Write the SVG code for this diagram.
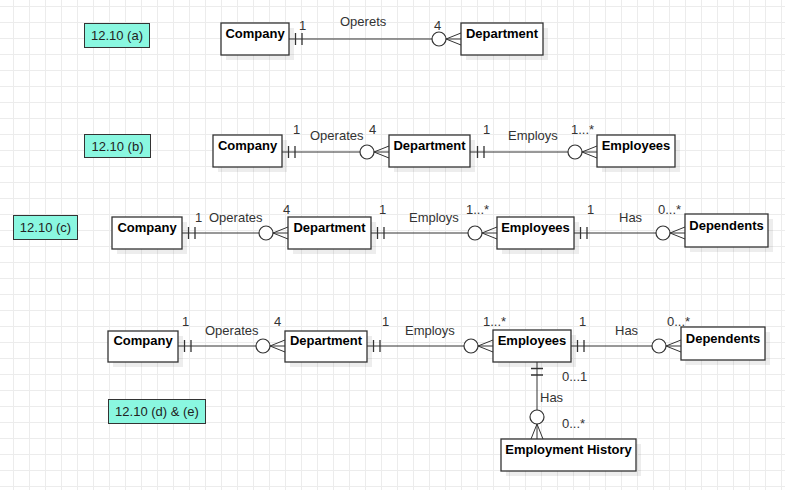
<svg xmlns="http://www.w3.org/2000/svg" width="785" height="490" viewBox="0 0 785 490">
<style>
.ent rect.b{fill:#fff;stroke:#333;stroke-width:1.3}
.ent rect.s{fill:#000;opacity:.07}
.et{font:bold 13px "Liberation Sans",Arial,sans-serif;fill:#000;text-anchor:middle}
.lbl rect{fill:#8af7e0;stroke:#333;stroke-width:1}
.lt{font:13px "Liberation Sans",Arial,sans-serif;fill:#222;text-anchor:middle}
.ct{font:13px "Liberation Sans",Arial,sans-serif;fill:#333}
.ln{stroke:#333;stroke-width:1;fill:none}
.bar{stroke:#333;stroke-width:1.3;fill:none}
.ring{fill:#fff;stroke:#333;stroke-width:1.2}
</style>
<defs>
<pattern id="grid" width="16" height="16" patternUnits="userSpaceOnUse" x="13" y="6">
<path d="M0 0.5H16M0.5 0V16" stroke="#ececec" stroke-width="1" fill="none"/>
</pattern>
<g id="one"><path class="bar" d="M6.5,-6V6M13,-6V6"/></g>
<g id="zmany"><path class="ln" d="M-15,0L0,-6M-15,0L0,0M-15,0L0,6"/><circle class="ring" cx="-22" cy="0" r="7"/></g>
</defs>
<rect width="785" height="490" fill="#fff"/>
<rect width="785" height="490" fill="url(#grid)"/>

<g id="connectors">
<g id="c-a">
<line class="ln" x1="289" y1="39" x2="446" y2="39"/>
<use href="#one" x="289" y="39"/><use href="#zmany" x="461" y="39"/>
<text class="ct" x="299" y="30">1</text><text class="ct" x="340" y="26">Operets</text><text class="ct" x="434" y="30">4</text>
</g>
<g id="c-b1">
<line class="ln" x1="282" y1="152" x2="374" y2="152"/>
<use href="#one" x="282" y="152"/><use href="#zmany" x="389" y="152"/>
<text class="ct" x="293" y="134">1</text><text class="ct" x="310" y="140">Operates</text><text class="ct" x="369" y="134">4</text>
</g>
<g id="c-b2">
<line class="ln" x1="470" y1="152" x2="582" y2="152"/>
<use href="#one" x="471" y="152"/><use href="#zmany" x="597" y="152"/>
<text class="ct" x="483" y="134">1</text><text class="ct" x="508" y="140">Employs</text><text class="ct" x="571" y="134">1...*</text>
</g>
<g id="c-c1">
<line class="ln" x1="182" y1="233" x2="274" y2="233"/>
<use href="#one" x="182" y="233"/><use href="#zmany" x="288" y="233"/>
<text class="ct" x="195" y="222">1</text><text class="ct" x="209" y="222">Operates</text><text class="ct" x="283" y="214">4</text>
</g>
<g id="c-c2">
<line class="ln" x1="371" y1="233" x2="482" y2="233"/>
<use href="#one" x="371" y="233"/><use href="#zmany" x="497" y="233"/>
<text class="ct" x="379" y="214">1</text><text class="ct" x="409" y="222">Employs</text><text class="ct" x="466" y="214">1...*</text>
</g>
<g id="c-c3">
<line class="ln" x1="574" y1="233" x2="670" y2="233"/>
<use href="#one" x="574" y="233"/><use href="#zmany" x="685" y="233"/>
<text class="ct" x="587" y="214">1</text><text class="ct" x="619" y="222">Has</text><text class="ct" x="658" y="214">0...*</text>
</g>
<g id="c-d1">
<line class="ln" x1="178" y1="346" x2="270" y2="346"/>
<use href="#one" x="178" y="346"/><use href="#zmany" x="285" y="346"/>
<text class="ct" x="182" y="326">1</text><text class="ct" x="205" y="335">Operates</text><text class="ct" x="274" y="326">4</text>
</g>
<g id="c-d2">
<line class="ln" x1="367" y1="346" x2="478" y2="346"/>
<use href="#one" x="367" y="346"/><use href="#zmany" x="493" y="346"/>
<text class="ct" x="382" y="326">1</text><text class="ct" x="405" y="335">Employs</text><text class="ct" x="483" y="326">1...*</text>
</g>
<g id="c-d3">
<line class="ln" x1="571" y1="346" x2="666" y2="346"/>
<use href="#one" x="571" y="346"/><use href="#zmany" x="681" y="346"/>
<text class="ct" x="579" y="326">1</text><text class="ct" x="615" y="335">Has</text><text class="ct" x="667" y="326">0...*</text>
</g>
<g id="c-d4">
<line class="ln" x1="537" y1="362" x2="537" y2="424"/>
<use href="#one" transform="translate(537,362) rotate(90)"/><use href="#zmany" transform="translate(537,439) rotate(90)"/>
<text class="ct" x="562" y="381">0...1</text><text class="ct" x="540" y="402">Has</text><text class="ct" x="562" y="428">0...*</text>
</g>
</g>

<g id="label-a" class="lbl"><rect x="84.5" y="23.5" width="65" height="24"/><text class="lt" x="117" y="40">12.10 (a)</text></g>
<g id="label-b" class="lbl"><rect x="84.5" y="134.5" width="66" height="23"/><text class="lt" x="117.5" y="151">12.10 (b)</text></g>
<g id="label-c" class="lbl"><rect x="13.5" y="215.5" width="64" height="24"/><text class="lt" x="45.5" y="232">12.10 (c)</text></g>
<g id="label-d" class="lbl"><rect x="108.5" y="399.5" width="97" height="24"/><text class="lt" x="157" y="416">12.10 (d) &amp; (e)</text></g>

<g id="company-a" class="ent"><rect class="s" x="226" y="28" width="68" height="32"/><rect class="b" x="221" y="23" width="68" height="32"/><text class="et" x="255" y="38">Company</text></g>
<g id="department-a" class="ent"><rect class="s" x="466" y="28" width="82" height="32"/><rect class="b" x="461" y="23" width="82" height="32"/><text class="et" x="502" y="38">Department</text></g>

<g id="company-b" class="ent"><rect class="s" x="218" y="140" width="69" height="32"/><rect class="b" x="213" y="135" width="69" height="32"/><text class="et" x="247.5" y="150">Company</text></g>
<g id="department-b" class="ent"><rect class="s" x="394" y="140" width="81" height="32"/><rect class="b" x="389" y="135" width="81" height="32"/><text class="et" x="429.5" y="150">Department</text></g>
<g id="employees-b" class="ent"><rect class="s" x="602" y="140" width="78" height="32"/><rect class="b" x="597" y="135" width="78" height="32"/><text class="et" x="636" y="150">Employees</text></g>

<g id="company-c" class="ent"><rect class="s" x="117" y="222" width="70" height="32"/><rect class="b" x="112" y="217" width="70" height="32"/><text class="et" x="147" y="232">Company</text></g>
<g id="department-c" class="ent"><rect class="s" x="293" y="222" width="83" height="32"/><rect class="b" x="288" y="217" width="83" height="32"/><text class="et" x="329.5" y="232">Department</text></g>
<g id="employees-c" class="ent"><rect class="s" x="502" y="222" width="77" height="32"/><rect class="b" x="497" y="217" width="77" height="32"/><text class="et" x="535.5" y="232">Employees</text></g>
<g id="dependents-c" class="ent"><rect class="s" x="690" y="219" width="83" height="33"/><rect class="b" x="685" y="214" width="83" height="33"/><text class="et" x="726.5" y="230">Dependents</text></g>

<g id="company-d" class="ent"><rect class="s" x="113" y="336" width="70" height="31"/><rect class="b" x="108" y="331" width="70" height="31"/><text class="et" x="143" y="345">Company</text></g>
<g id="department-d" class="ent"><rect class="s" x="290" y="336" width="82" height="31"/><rect class="b" x="285" y="331" width="82" height="31"/><text class="et" x="326" y="345">Department</text></g>
<g id="employees-d" class="ent"><rect class="s" x="498" y="335" width="78" height="32"/><rect class="b" x="493" y="330" width="78" height="32"/><text class="et" x="532" y="345">Employees</text></g>
<g id="dependents-d" class="ent"><rect class="s" x="686" y="332" width="84" height="33"/><rect class="b" x="681" y="327" width="84" height="33"/><text class="et" x="723" y="343">Dependents</text></g>
<g id="employment-history" class="ent"><rect class="s" x="506" y="444" width="135" height="32"/><rect class="b" x="501" y="439" width="135" height="32"/><text class="et" x="568.5" y="454">Employment History</text></g>
</svg>
